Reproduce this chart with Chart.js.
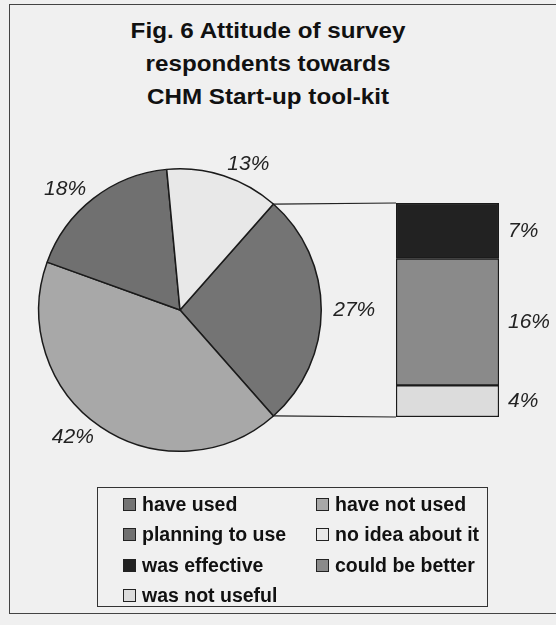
<!DOCTYPE html>
<html>
<head>
<meta charset="utf-8">
<script src="https://cdn.jsdelivr.net/npm/chart.js@4/dist/chart.umd.min.js"></script>
<style>
  body { margin: 0; background: #f0f0f0; overflow: hidden; font-family: "Liberation Sans", Arial, sans-serif; color: #111; }
  #wrap { position: relative; width: 556px; height: 625px; overflow: hidden; }
  #frame { position: absolute; left: 9px; top: 4px; width: 600px; height: 608px; border: 1px solid #444; }
  #title { position: absolute; left: 0; top: 14px; width: 536px; text-align: center; font-weight: bold; font-size: 22px; line-height: 33px; transform: scaleX(1.1); }
  canvas { position: absolute; left: 0; top: 130px; }
  #legend { position: absolute; left: 97px; top: 487px; width: 391px; height: 120px; border: 1px solid #333;
            display: grid; grid-template-columns: 193px 1fr; grid-auto-rows: 30.5px; padding: 1px 0 0 25px; box-sizing: border-box; }
  .item { display: flex; align-items: center; font-weight: bold; font-size: 19.5px; white-space: nowrap; }
  .sw { width: 11px; height: 11px; border: 1px solid #222; margin-right: 6px; flex: none; }
</style>
</head>
<body>
<div id="wrap">
  <div id="frame"></div>
  <div id="title">Fig. 6 Attitude of survey<br>respondents towards<br>CHM Start-up tool-kit</div>
  <canvas id="pieChart" width="556" height="360"></canvas>
  <canvas id="barChart" width="556" height="360"></canvas>
  <div id="legend"></div>
</div>
<script>
// pie: main answers
const pieLabels = ["have used", "have not used", "planning to use", "no idea about it"];
const pieValues = [27, 42, 18, 13];
const pieColors = ["#747474", "#a8a8a8", "#707070", "#e8e8e8"];

// bar: breakdown of "have used"
const barLabels = ["was effective", "could be better", "was not useful"];
const barValues = [7, 16, 4];
const barColors = ["#222222", "#8a8a8a", "#dcdcdc"];

const labelFont = "italic 21px 'Liberation Sans', Arial, sans-serif";

// percentage labels outside the pie
const pieLabelPlugin = {
  id: "pieLabels",
  afterDatasetsDraw(chart) {
    const ctx = chart.ctx;
    const arcs = chart.getDatasetMeta(0).data;
    ctx.save();
    ctx.font = labelFont;
    ctx.fillStyle = "#222";
    ctx.textBaseline = "middle";
    arcs.forEach((arc, i) => {
      const mid = (arc.startAngle + arc.endAngle) / 2;
      const r = arc.outerRadius + 12;
      ctx.textAlign = Math.cos(mid) >= 0 ? "left" : "right";
      ctx.fillText(pieValues[i] + "%", arc.x + r * Math.cos(mid), arc.y + r * Math.sin(mid));
    });
    ctx.restore();
  }
};

const pieChart = new Chart(document.getElementById("pieChart"), {
  type: "pie",
  data: {
    labels: pieLabels,
    datasets: [{
      data: pieValues,
      backgroundColor: pieColors,
      borderColor: "#1a1a1a",
      borderWidth: 1.5
    }]
  },
  options: {
    responsive: false,
    animation: false,
    rotation: 41.4,
    layout: { padding: { left: 38, right: 234, top: 38, bottom: 38 } },
    plugins: { legend: { display: false }, tooltip: { enabled: false } }
  },
  plugins: [pieLabelPlugin]
});

// bar is stacked bottom-up, so reverse the lists
const stackValues = barValues.slice().reverse();
const stackColors = barColors.slice().reverse();
const stackLabels = barLabels.slice().reverse();
const total = barValues.reduce((a, b) => a + b, 0);

const barExtras = {
  id: "barExtras",
  beforeDatasetsDraw(chart) {
    // connector lines from the "have used" slice to the bar
    const ctx = chart.ctx;
    const arc = pieChart.getDatasetMeta(0).data[0];
    const topBar = chart.getDatasetMeta(stackValues.length - 1).data[0];
    const botBar = chart.getDatasetMeta(0).data[0];
    const left = topBar.x - topBar.width / 2;
    const R = arc.outerRadius;
    ctx.save();
    ctx.strokeStyle = "#222";
    ctx.lineWidth = 1.2;
    ctx.beginPath();
    ctx.moveTo(arc.x + R * Math.cos(arc.startAngle), arc.y + R * Math.sin(arc.startAngle));
    ctx.lineTo(left, topBar.y);
    ctx.moveTo(arc.x + R * Math.cos(arc.endAngle), arc.y + R * Math.sin(arc.endAngle));
    ctx.lineTo(left, botBar.base);
    ctx.stroke();
    ctx.restore();
  },
  afterDatasetsDraw(chart) {
    const ctx = chart.ctx;
    ctx.save();
    ctx.font = labelFont;
    ctx.fillStyle = "#222";
    ctx.textBaseline = "middle";
    ctx.textAlign = "left";
    stackValues.forEach((v, i) => {
      const bar = chart.getDatasetMeta(i).data[0];
      ctx.fillText(v + "%", bar.x + bar.width / 2 + 9, (bar.y + bar.base) / 2);
    });
    ctx.restore();
  }
};

const barChart = new Chart(document.getElementById("barChart"), {
  type: "bar",
  data: {
    labels: [""],
    datasets: stackValues.map((v, i) => ({
      label: stackLabels[i],
      data: [v],
      backgroundColor: stackColors[i],
      borderColor: "#1a1a1a",
      borderWidth: 1.5,
      borderSkipped: false,
      barPercentage: 1,
      categoryPercentage: 1
    }))
  },
  options: {
    responsive: false,
    animation: false,
    layout: { padding: { left: 396, right: 57, top: 73, bottom: 73 } },
    scales: {
      x: { stacked: true, display: false },
      y: { stacked: true, display: false, min: 0, max: total }
    },
    plugins: { legend: { display: false }, tooltip: { enabled: false } }
  },
  plugins: [barExtras]
});

// two-column legend built from the same lists
const legend = document.getElementById("legend");
const legendItems = pieLabels.map((l, i) => [l, pieColors[i]])
  .concat(barLabels.map((l, i) => [l, barColors[i]]));
legendItems.forEach(([text, color]) => {
  const el = document.createElement("div");
  el.className = "item";
  el.innerHTML = `<span class="sw" style="background:${color}"></span><span>${text}</span>`;
  legend.appendChild(el);
});
</script>
</body>
</html>
